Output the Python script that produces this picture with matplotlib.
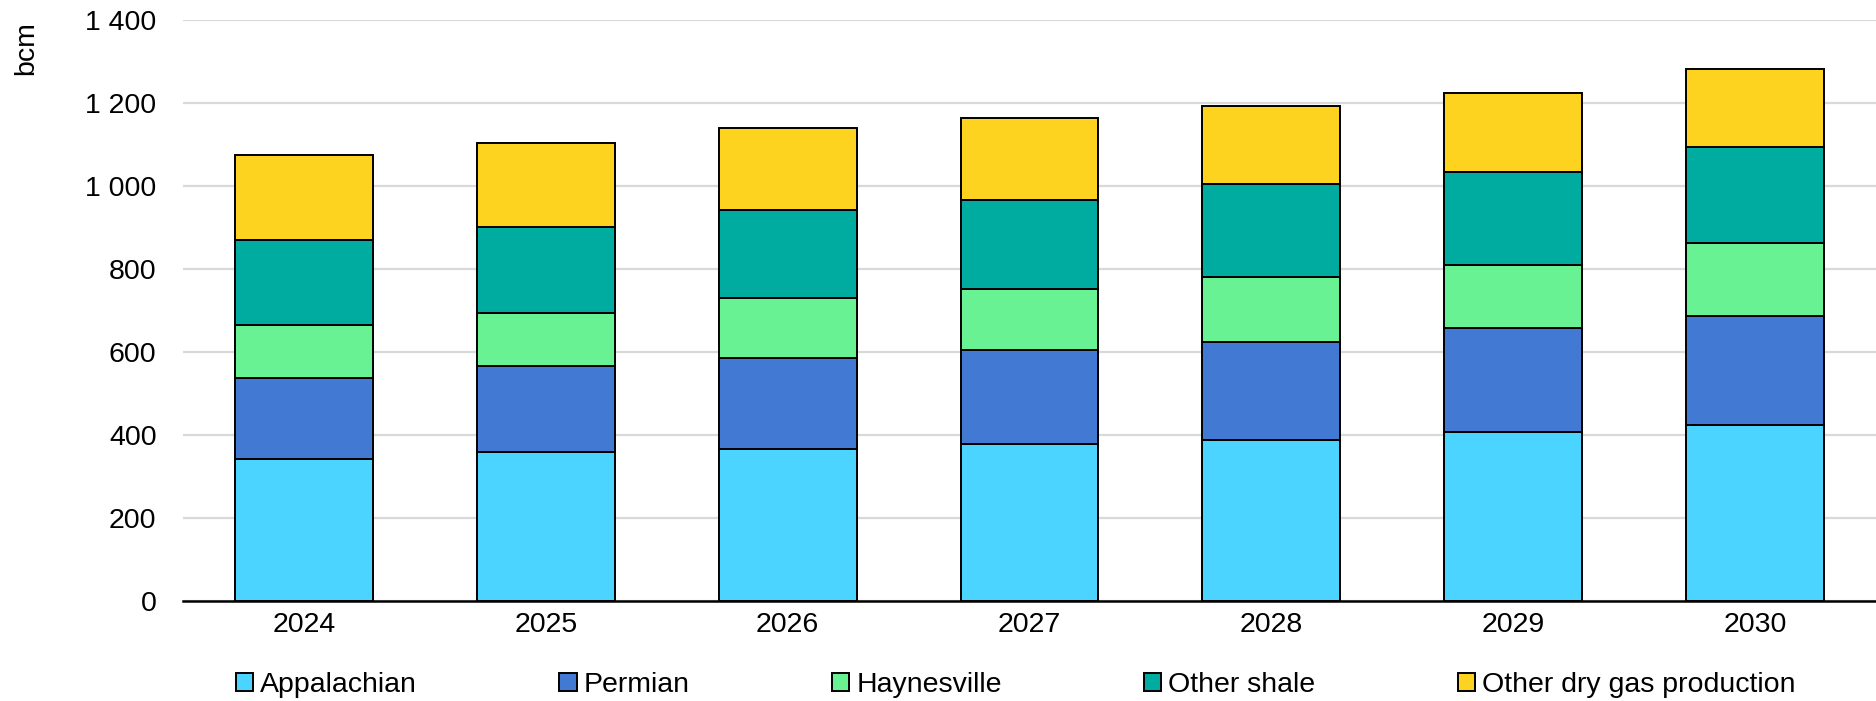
import numpy as np
import matplotlib
matplotlib.use("Agg")
import matplotlib.pyplot as plt
from matplotlib.ticker import FuncFormatter

plt.rcParams['font.family'] = ['Liberation Sans', 'DejaVu Sans']

# US dry gas production by basin, bcm
years = ['2024', '2025', '2026', '2027', '2028', '2029', '2030']
appalachian = [343, 358, 367, 378, 388, 408, 424]
permian = [194, 208, 219, 228, 237, 250, 263]
haynesville = [127, 127, 144, 145, 156, 152, 175]
other_shale = [205, 208, 211, 216, 223, 224, 231]
other_dry = [205, 202, 199, 196, 189, 189, 188]

series = [
    ('Appalachian', appalachian, '#4ad4ff'),
    ('Permian', permian, '#4179d3'),
    ('Haynesville', haynesville, '#69f293'),
    ('Other shale', other_shale, '#00aba0'),
    ('Other dry gas production', other_dry, '#fed320'),
]

fs = 20.5

fig = plt.figure(figsize=(18.76, 7.01), dpi=100)
ax = fig.add_axes([183 / 1876, 100 / 701, 1693 / 1876, 581 / 701])

x = np.arange(len(years))
bottom = np.zeros(len(years))
for name, vals, color in series:
    ax.bar(x, vals, 0.57, bottom=bottom, color=color, edgecolor='black',
           linewidth=1.4, label=name, zorder=3)
    bottom += np.array(vals)

ax.set_xlim(-0.5, 6.5)
ax.set_ylim(0, 1400)
ax.set_yticks(range(0, 1401, 200))
ax.yaxis.set_major_formatter(FuncFormatter(lambda v, p: f"{int(v):,}".replace(',', ' ')))
ax.set_xticks(x)
ax.set_xticklabels(years)
ax.tick_params(axis='both', length=0, labelsize=fs, colors='black')
ax.tick_params(axis='y', pad=19)
ax.tick_params(axis='x', pad=8)
ax.grid(axis='y', color='#d9d9d9', linewidth=1.6, zorder=0)
for side in ['top', 'right', 'left']:
    ax.spines[side].set_visible(False)
ax.spines['bottom'].set_linewidth(1.8)
ax.spines['bottom'].set_zorder(4)

fig.text(26 / 1876, 1 - 48 / 701, 'bcm', rotation=90, fontsize=fs,
         ha='center', va='center')

fig.legend(loc='center left', bbox_to_anchor=(236 / 1876, 1 - 685 / 701),
           ncol=5, frameon=False, fontsize=fs, handlelength=0.6,
           handleheight=0.6, handletextpad=0.25, columnspacing=5.0,
           borderaxespad=0, borderpad=0)

fig.savefig('out.png', dpi=100)
